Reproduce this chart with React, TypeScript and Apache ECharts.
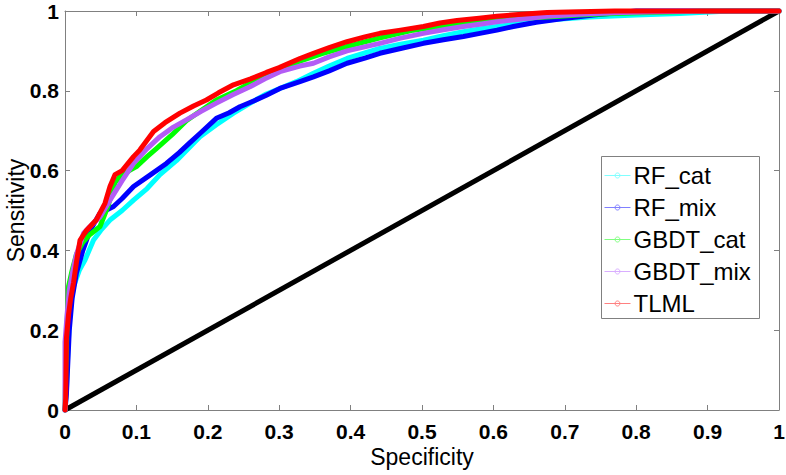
import React, { useEffect, useRef } from "react";
import * as echarts from "echarts";

// ROC curve points: [1 - specificity (x axis), sensitivity]
const rfCat: [number, number][] = [
  [0, 0], [0.002, 0.05], [0.004, 0.15], [0.007, 0.25], [0.012, 0.31], [0.02, 0.35], [0.028, 0.376],
  [0.04, 0.426], [0.05, 0.45], [0.063, 0.476], [0.08, 0.5], [0.096, 0.526], [0.115, 0.555], [0.133, 0.59],
  [0.156, 0.625], [0.189, 0.685], [0.212, 0.715], [0.236, 0.744], [0.26, 0.77], [0.282, 0.792], [0.3, 0.805],
  [0.324, 0.823], [0.348, 0.844], [0.37, 0.862], [0.395, 0.881], [0.42, 0.895], [0.441, 0.906], [0.47, 0.917],
  [0.502, 0.927], [0.53, 0.938], [0.558, 0.948], [0.581, 0.955], [0.605, 0.961], [0.64, 0.97], [0.68, 0.978],
  [0.735, 0.985], [0.8, 0.99], [0.861, 0.994], [0.93, 1], [1, 1],
];
const rfMix: [number, number][] = [
  [0, 0], [0.002, 0.04], [0.003, 0.08], [0.006, 0.2], [0.01, 0.28], [0.016, 0.343], [0.025, 0.4],
  [0.035, 0.45], [0.049, 0.493], [0.068, 0.51], [0.08, 0.53], [0.096, 0.56], [0.12, 0.59], [0.142, 0.618],
  [0.16, 0.645], [0.175, 0.67], [0.189, 0.693], [0.212, 0.731], [0.23, 0.745], [0.245, 0.76], [0.265, 0.775],
  [0.282, 0.789], [0.301, 0.806], [0.329, 0.823], [0.348, 0.835], [0.37, 0.85], [0.395, 0.869], [0.42, 0.882],
  [0.441, 0.894], [0.47, 0.906], [0.502, 0.919], [0.53, 0.928], [0.558, 0.936], [0.581, 0.944], [0.605, 0.952],
  [0.628, 0.961], [0.66, 0.972], [0.698, 0.981], [0.74, 0.99], [0.8, 1], [1, 1],
];
const gbdtCat: [number, number][] = [
  [0, 0], [0.001, 0.1], [0.003, 0.22], [0.005, 0.31], [0.01, 0.35], [0.016, 0.39], [0.025, 0.42],
  [0.035, 0.44], [0.049, 0.46], [0.06, 0.51], [0.07, 0.57], [0.077, 0.585], [0.09, 0.6], [0.1, 0.61],
  [0.115, 0.635], [0.128, 0.655], [0.15, 0.69], [0.17, 0.725], [0.19, 0.75], [0.212, 0.777], [0.24, 0.8],
  [0.27, 0.83], [0.3, 0.853], [0.33, 0.875], [0.36, 0.893], [0.395, 0.911], [0.44, 0.932], [0.488, 0.952],
  [0.53, 0.963], [0.581, 0.973], [0.62, 0.98], [0.675, 0.985], [0.72, 0.99], [0.77, 0.994], [0.83, 0.997],
  [0.9, 1], [1, 1],
];
const gbdtMix: [number, number][] = [
  [0, 0], [0, 0.17], [0.003, 0.24], [0.006, 0.3], [0.01, 0.34], [0.016, 0.39], [0.026, 0.443],
  [0.035, 0.46], [0.049, 0.484], [0.063, 0.526], [0.08, 0.575], [0.096, 0.618], [0.115, 0.655], [0.133, 0.685],
  [0.15, 0.707], [0.17, 0.727], [0.19, 0.748], [0.212, 0.769], [0.235, 0.79], [0.259, 0.81], [0.28, 0.83],
  [0.301, 0.848], [0.329, 0.862], [0.348, 0.869], [0.37, 0.885], [0.395, 0.9], [0.441, 0.919], [0.47, 0.932],
  [0.502, 0.944], [0.53, 0.953], [0.558, 0.961], [0.581, 0.967], [0.605, 0.973], [0.64, 0.98], [0.675, 0.987],
  [0.72, 0.992], [0.78, 0.996], [0.85, 0.999], [0.9, 1], [1, 1],
];
const tlml: [number, number][] = [
  [0, 0], [0.001, 0.03], [0.002, 0.18], [0.005, 0.24], [0.008, 0.28], [0.012, 0.32], [0.016, 0.37],
  [0.021, 0.425], [0.03, 0.45], [0.044, 0.477], [0.056, 0.518], [0.063, 0.56], [0.07, 0.59], [0.08, 0.6],
  [0.096, 0.635], [0.105, 0.652], [0.124, 0.698], [0.14, 0.72], [0.161, 0.744], [0.18, 0.762], [0.198, 0.777],
  [0.215, 0.795], [0.236, 0.815], [0.26, 0.83], [0.282, 0.846], [0.3, 0.858], [0.329, 0.881], [0.348, 0.894],
  [0.37, 0.908], [0.395, 0.923], [0.42, 0.935], [0.441, 0.944], [0.47, 0.952], [0.502, 0.961], [0.525, 0.97],
  [0.549, 0.976], [0.58, 0.982], [0.605, 0.987], [0.64, 0.992], [0.675, 0.996], [0.72, 0.998], [0.77, 1], [1, 1],
];
const diagonal: [number, number][] = [[0, 0], [1, 1]];

const seriesNames = ["RF_cat", "RF_mix", "GBDT_cat", "GBDT_mix", "TLML"];
const seriesData = [rfCat, rfMix, gbdtCat, gbdtMix, tlml];
const seriesColors = ["#00FFFF", "#0000FF", "#00FF00", "#B35CF5", "#FF0000"];
const legendColors = ["#80FFFF", "#8080FF", "#80FF80", "#D9AEFF", "#FF8080"];

const FONT = "'Liberation Sans', Arial, sans-serif";
const AXIS_COLOR = "#808080";

export default function App() {
  const ref = useRef<HTMLDivElement>(null);
  useEffect(() => {
    if (!ref.current) return;
    const chart = echarts.init(ref.current, undefined, { renderer: "svg" });
    const tickLabel = {
      color: "#000",
      fontFamily: FONT,
      fontWeight: "bold" as const,
      fontSize: 21,
      formatter: (v: number) => String(+v.toFixed(1)),
    };
    const legendLeft = 601;
    const legendTop = 156;
    const rowH = 32;
    const legendChildren: any[] = [
      {
        type: "rect",
        shape: { x: 0, y: 0, width: 158, height: 162 },
        style: { fill: "#fff", stroke: "#808080", lineWidth: 1 },
      },
    ];
    seriesNames.forEach((n, i) => {
      const cy = 19 + i * rowH;
      legendChildren.push(
        { type: "line", shape: { x1: 3, y1: cy, x2: 29, y2: cy }, style: { stroke: legendColors[i], lineWidth: 1 } },
        { type: "circle", shape: { cx: 16, cy, r: 2.5 }, style: { fill: "none", stroke: legendColors[i], lineWidth: 1 } },
        {
          type: "text",
          x: 32,
          y: cy,
          style: { text: n, fill: "#000", font: `24px ${FONT}`, textVerticalAlign: "middle", verticalAlign: "middle" },
        }
      );
    });
    chart.setOption({
      animation: false,
      backgroundColor: "#fff",
      grid: { left: 65, right: 7, top: 11, bottom: 65, containLabel: false, outerBoundsMode: "none" },
      xAxis: [
        {
          type: "value",
          min: 0,
          max: 1,
          interval: 0.1,
          name: "Specificity",
          nameLocation: "middle",
          nameGap: 35,
          nameMoveOverlap: false,
          nameTextStyle: { color: "#000", fontFamily: FONT, fontSize: 23 },
          axisLine: { show: true, lineStyle: { color: AXIS_COLOR, width: 1 } },
          axisTick: { show: true, inside: true, length: 5, lineStyle: { color: AXIS_COLOR } },
          axisLabel: { ...tickLabel, margin: 11 },
          splitLine: { show: false },
        },
        {
          type: "value",
          position: "top",
          min: 0,
          max: 1,
          interval: 0.1,
          axisLine: { show: true, onZero: false, lineStyle: { color: AXIS_COLOR, width: 1 } },
          axisTick: { show: true, inside: true, length: 5, lineStyle: { color: AXIS_COLOR } },
          axisLabel: { show: false },
          splitLine: { show: false },
        },
      ],
      yAxis: [
        {
          type: "value",
          min: 0,
          max: 1,
          interval: 0.2,
          name: "Sensitivity",
          nameLocation: "middle",
          nameGap: 38,
          nameMoveOverlap: false,
          nameTextStyle: { color: "#000", fontFamily: FONT, fontSize: 23 },
          axisLine: { show: true, lineStyle: { color: AXIS_COLOR, width: 1 } },
          axisTick: { show: true, inside: true, length: 5, lineStyle: { color: AXIS_COLOR } },
          axisLabel: { ...tickLabel, margin: 6 },
          splitLine: { show: false },
        },
        {
          type: "value",
          position: "right",
          min: 0,
          max: 1,
          interval: 0.2,
          axisLine: { show: true, onZero: false, lineStyle: { color: AXIS_COLOR, width: 1 } },
          axisTick: { show: true, inside: true, length: 5, lineStyle: { color: AXIS_COLOR } },
          axisLabel: { show: false },
          splitLine: { show: false },
        },
      ],
      series: [
        {
          name: "chance",
          type: "line",
          data: diagonal,
          showSymbol: false,
          clip: false,
          lineStyle: { color: "#000", width: 5 },
          z: 1,
        },
        ...seriesNames.map((n, i) => ({
          name: n,
          type: "line",
          data: seriesData[i],
          showSymbol: false,
          clip: false,
          lineStyle: { color: seriesColors[i], width: 5, join: "round", cap: "round" },
          itemStyle: { color: seriesColors[i] },
          z: 2 + i,
        })),
      ],
      graphic: [
        {
          type: "group",
          left: legendLeft,
          top: legendTop,
          z: 100,
          children: legendChildren,
        },
      ],
    });
    return () => chart.dispose();
  }, []);
  return (
    <div
      ref={ref}
      style={{ position: "absolute", left: 0, top: 0, width: 786, height: 475 }}
    />
  );
}
